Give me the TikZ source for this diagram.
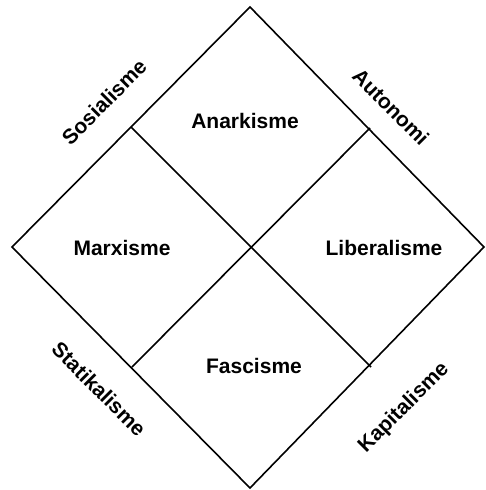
\documentclass[tikz,border=0pt]{standalone}
\usepackage{fontspec}
\setmainfont{Liberation Sans}
\usetikzlibrary{positioning}

\begin{document}
\begin{tikzpicture}[
  x=1pt, y=-1pt,
  every node/.style={font=\fontsize{21}{24}\selectfont\bfseries, inner sep=0pt},
  frameline/.style={draw=black, line width=1.6pt, line join=miter},
  axislabel/.style={anchor=center}
]
\useasboundingbox (0,0) rectangle (485,490);

% corners and midpoints of the diamond
\coordinate (top) at (250,7);
\coordinate (left) at (12,247);
\coordinate (bottom) at (250,488);
\coordinate (right) at (484,247);
\coordinate (tl) at (131,127);
\coordinate (tr) at (370,128);
\coordinate (bl) at (132,367);
\coordinate (br) at (371,367);

\draw[frameline] (top) -- (right) -- (bottom) -- (left) -- cycle;
\draw[frameline] (tl) -- (br);
\draw[frameline] (tr) -- (bl);

% quadrant names
\node (anarkisme) at (245,121) {Anarkisme};
\node (marxisme) at (122,248) {Marxisme};
\node (liberalisme) at (384,248) {Liberalisme};
\node (fascisme) at (254,366) {Fascisme};

% axis names
\node[axislabel, rotate=45] (sosialisme) at (104,102) {Sosialisme};
\node[axislabel, rotate=-45] (autonomi) at (391,107) {Autonomi};
\node[axislabel, rotate=-45] (statikalisme) at (99,389) {Statikalisme};
\node[axislabel, rotate=45] (kapitalisme) at (404,408) {Kapitalisme};
\end{tikzpicture}
\end{document}
